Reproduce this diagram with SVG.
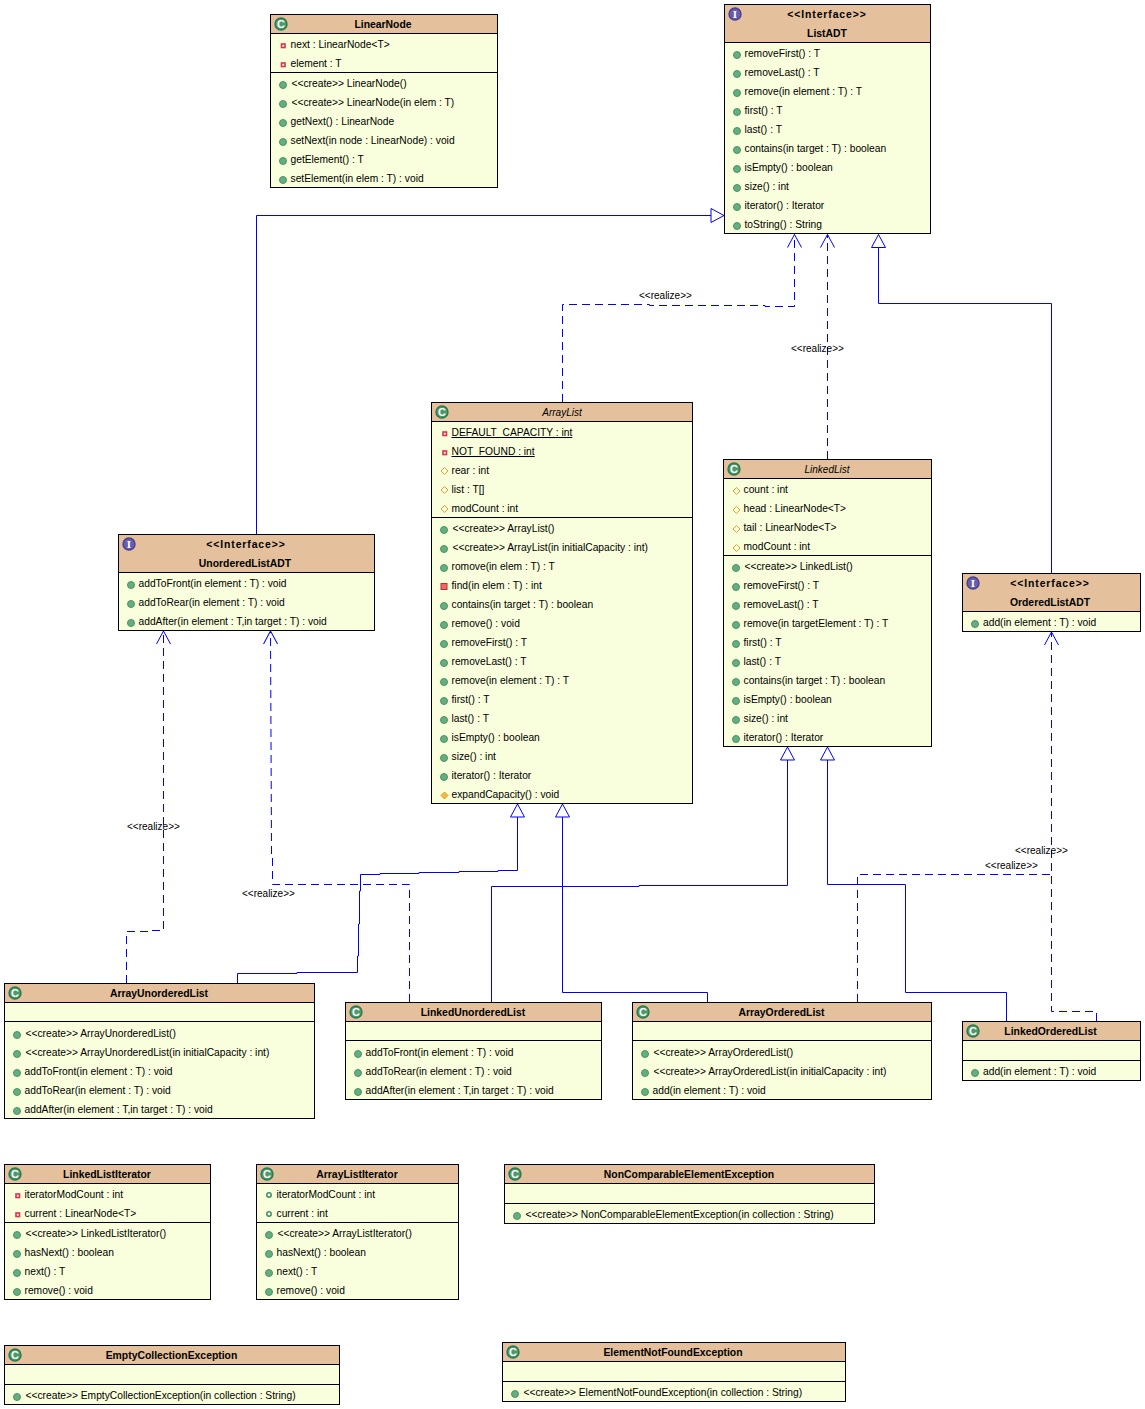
<svg xmlns="http://www.w3.org/2000/svg" width="1145" height="1409" viewBox="0 0 1145 1409">
<style>
text{font-family:"Liberation Sans",Arial,sans-serif;font-size:10.25px;fill:#000}
.l{font-size:10px}
.t{font-weight:bold;font-size:10.4px;text-anchor:middle}
.if{letter-spacing:.9px}
.it{font-style:italic;font-weight:normal;font-size:10px}
.u{text-decoration:underline}
.b{fill:#f9ffdc;stroke:#000;stroke-width:1}
.h{fill:#e4c19c;stroke:#000;stroke-width:1}
.s{stroke:#000;stroke-width:1;fill:none}
.c{fill:#4b9a6c;stroke:#2d7a4d;stroke-width:1.4}
.ci{fill:#6a5db0;stroke:#48408a;stroke-width:1.4}
.g{font-size:11px;font-weight:bold;fill:#fff;text-anchor:middle}
.gi{font-family:"Liberation Serif",serif;font-size:11px;font-weight:bold;fill:#fff;text-anchor:middle}
.pu{fill:#66ad7f;stroke:#4a9468;stroke-width:1}
.pr{fill:#fff;stroke:#e0304a;stroke-width:1.6}
.pm{fill:#ee6a6a;stroke:#b93030;stroke-width:1}
.pt{fill:none;stroke:#e0a030;stroke-width:1}
.pk{fill:#fff;stroke:#3d8f60;stroke-width:1.5}
.sol{fill:none;stroke:#00f;stroke-width:1}
.das{fill:none;stroke:#00f;stroke-width:1;stroke-dasharray:8 5}
.gen{marker-end:url(#tri)}
.rea{marker-end:url(#opn)}
</style>
<defs>
<marker id="tri" markerUnits="userSpaceOnUse" viewBox="-14 -8 15 16" refX="0" refY="0" markerWidth="15" markerHeight="16" orient="auto"><path d="M0 0L-13 -7L-13 7Z" fill="#fff" stroke="#00f" stroke-width="1"/></marker>
<marker id="opn" markerUnits="userSpaceOnUse" viewBox="-14 -8 15 16" refX="0" refY="0" markerWidth="15" markerHeight="16" orient="auto"><path d="M-13 -7L0 0L-13 7" fill="none" stroke="#00f" stroke-width="1"/></marker>
</defs>
<rect width="1145" height="1409" fill="#fff"/>
<g id="connectors">
<path class="sol gen" d="M256.5 534V215.5H724"/>
<path class="sol gen" d="M1051.5 573V303.5H878.5V234.5"/>
<path class="das rea" d="M562.5 402V304.5H649.5V305.5H765V306.5H794.5V234.5"/>
<path class="das rea" d="M827.5 459V234.5"/>
<path class="das rea" d="M126.5 983V931.5H149V930.5H163.5V631"/>
<path class="das rea" d="M409.5 1002V884.5H272.5V858H271.5V845L270.5 631"/>
<path class="sol gen" d="M237.5 983V973.5H297V972.5H357.5V956H358.5V924H359.5V891H360.5V874.5H380V873.5H419V872.5H459V871.5H498V870.5H517.5V804"/>
<path class="sol gen" d="M491.5 1002V886.5H639V885.5H787.5V747"/>
<path class="sol gen" d="M707.5 1002V992.5H562.5V804"/>
<path class="sol gen" d="M1006.5 1021V992.5H905.5V884.5H827.5V747"/>
<path class="das" d="M857.5 1002V874.5H1051.5"/>
<path class="das rea" d="M1096.5 1021V1011.5H1051.5V632"/>
<text class="l" x="639" y="299">&lt;&lt;realize&gt;&gt;</text>
<text class="l" x="791" y="352">&lt;&lt;realize&gt;&gt;</text>
<text class="l" x="127" y="830">&lt;&lt;realize&gt;&gt;</text>
<text class="l" x="242" y="897">&lt;&lt;realize&gt;&gt;</text>
<text class="l" x="1015" y="854">&lt;&lt;realize&gt;&gt;</text>
<text class="l" x="985" y="869">&lt;&lt;realize&gt;&gt;</text>
</g>
<g id="LinearNode">
<rect class="b" x="270.5" y="14.5" width="227" height="173"/><rect class="h" x="270.5" y="14.5" width="227" height="19"/><path class="s" d="M270.5 72.5H497.5"/>
<circle class="c" cx="281" cy="24" r="6"/><text class="g" x="281" y="28">C</text>
<text class="t" x="383" y="28">LinearNode</text>
<rect class="pr" x="281.5" y="44" width="3.5" height="3.5"/><rect class="pr" x="281.5" y="63" width="3.5" height="3.5"/>
<text x="290.5" y="48">next : LinearNode&lt;T&gt;</text><text x="290.5" y="67">element : T</text>
<circle class="pu" cx="283" cy="85" r="3.5"/><circle class="pu" cx="283" cy="104" r="3.5"/><circle class="pu" cx="283" cy="123" r="3.5"/><circle class="pu" cx="283" cy="142" r="3.5"/><circle class="pu" cx="283" cy="161" r="3.5"/><circle class="pu" cx="283" cy="180" r="3.5"/>
<text x="291.5" y="87">&lt;&lt;create&gt;&gt; LinearNode()</text><text x="291.5" y="106">&lt;&lt;create&gt;&gt; LinearNode(in elem : T)</text><text x="290.5" y="125">getNext() : LinearNode</text><text x="290.5" y="144">setNext(in node : LinearNode) : void</text><text x="290.5" y="163">getElement() : T</text><text x="290.5" y="182">setElement(in elem : T) : void</text>
</g>
<g id="ListADT">
<rect class="b" x="724.5" y="4.5" width="206" height="229"/><rect class="h" x="724.5" y="4.5" width="206" height="38"/>
<circle class="ci" cx="735" cy="14" r="6"/><text class="gi" x="735" y="18">I</text>
<text class="t if" x="827" y="18">&lt;&lt;Interface&gt;&gt;</text><text class="t" x="827" y="37">ListADT</text>
<circle class="pu" cx="737" cy="55" r="3.5"/><circle class="pu" cx="737" cy="74" r="3.5"/><circle class="pu" cx="737" cy="93" r="3.5"/><circle class="pu" cx="737" cy="112" r="3.5"/><circle class="pu" cx="737" cy="131" r="3.5"/><circle class="pu" cx="737" cy="150" r="3.5"/><circle class="pu" cx="737" cy="169" r="3.5"/><circle class="pu" cx="737" cy="188" r="3.5"/><circle class="pu" cx="737" cy="207" r="3.5"/><circle class="pu" cx="737" cy="226" r="3.5"/>
<text x="744.5" y="57">removeFirst() : T</text><text x="744.5" y="76">removeLast() : T</text><text x="744.5" y="95">remove(in element : T) : T</text><text x="744.5" y="114">first() : T</text><text x="744.5" y="133">last() : T</text><text x="744.5" y="152">contains(in target : T) : boolean</text><text x="744.5" y="171">isEmpty() : boolean</text><text x="744.5" y="190">size() : int</text><text x="744.5" y="209">iterator() : Iterator</text><text x="744.5" y="228">toString() : String</text>
</g>
<g id="ArrayList">
<rect class="b" x="431.5" y="402.5" width="261" height="401"/><rect class="h" x="431.5" y="402.5" width="261" height="19"/><path class="s" d="M431.5 517.5H692.5"/>
<circle class="c" cx="442" cy="412" r="6"/><text class="g" x="442" y="416">C</text>
<text class="t it" x="562" y="416">ArrayList</text>
<rect class="pr" x="443" y="432" width="3.5" height="3.5"/><rect class="pr" x="443" y="451" width="3.5" height="3.5"/>
<path class="pt" d="M444.5 467.5l3.5 3.5l-3.5 3.5l-3.5 -3.5zM444.5 486.5l3.5 3.5l-3.5 3.5l-3.5 -3.5zM444.5 505.5l3.5 3.5l-3.5 3.5l-3.5 -3.5z"/>
<text class="u" x="451.5" y="436">DEFAULT_CAPACITY : int</text><text class="u" x="451.5" y="455">NOT_FOUND : int</text><text x="451.5" y="474">rear : int</text><text x="451.5" y="493">list : T[]</text><text x="451.5" y="512">modCount : int</text>
<circle class="pu" cx="444" cy="530" r="3.5"/><circle class="pu" cx="444" cy="549" r="3.5"/><circle class="pu" cx="444" cy="568" r="3.5"/><rect class="pm" x="441" y="583.5" width="6" height="6"/><circle class="pu" cx="444" cy="606" r="3.5"/><circle class="pu" cx="444" cy="625" r="3.5"/><circle class="pu" cx="444" cy="644" r="3.5"/><circle class="pu" cx="444" cy="663" r="3.5"/><circle class="pu" cx="444" cy="682" r="3.5"/><circle class="pu" cx="444" cy="701" r="3.5"/><circle class="pu" cx="444" cy="720" r="3.5"/><circle class="pu" cx="444" cy="739" r="3.5"/><circle class="pu" cx="444" cy="758" r="3.5"/><circle class="pu" cx="444" cy="777" r="3.5"/>
<path class="pt" d="M444.5 792l3.5 3.5l-3.5 3.5l-3.5 -3.5z" style="fill:#f0b840"/>
<text x="452.5" y="532">&lt;&lt;create&gt;&gt; ArrayList()</text><text x="452.5" y="551">&lt;&lt;create&gt;&gt; ArrayList(in initialCapacity : int)</text><text x="451.5" y="570">romove(in elem : T) : T</text><text x="451.5" y="589">find(in elem : T) : int</text><text x="451.5" y="608">contains(in target : T) : boolean</text><text x="451.5" y="627">remove() : void</text><text x="451.5" y="646">removeFirst() : T</text><text x="451.5" y="665">removeLast() : T</text><text x="451.5" y="684">remove(in element : T) : T</text><text x="451.5" y="703">first() : T</text><text x="451.5" y="722">last() : T</text><text x="451.5" y="741">isEmpty() : boolean</text><text x="451.5" y="760">size() : int</text><text x="451.5" y="779">iterator() : Iterator</text><text x="451.5" y="798">expandCapacity() : void</text>
</g>
<g id="LinkedList">
<rect class="b" x="723.5" y="459.5" width="208" height="287"/><rect class="h" x="723.5" y="459.5" width="208" height="19"/><path class="s" d="M723.5 555.5H931.5"/>
<circle class="c" cx="734" cy="469" r="6"/><text class="g" x="734" y="473">C</text>
<text class="t it" x="827" y="473">LinkedList</text>
<path class="pt" d="M736.5 487.5l3.5 3.5l-3.5 3.5l-3.5 -3.5zM736.5 506.5l3.5 3.5l-3.5 3.5l-3.5 -3.5zM736.5 525.5l3.5 3.5l-3.5 3.5l-3.5 -3.5zM736.5 544.5l3.5 3.5l-3.5 3.5l-3.5 -3.5z"/>
<text x="743.5" y="493">count : int</text><text x="743.5" y="512">head : LinearNode&lt;T&gt;</text><text x="743.5" y="531">tail : LinearNode&lt;T&gt;</text><text x="743.5" y="550">modCount : int</text>
<circle class="pu" cx="736" cy="568" r="3.5"/><circle class="pu" cx="736" cy="587" r="3.5"/><circle class="pu" cx="736" cy="606" r="3.5"/><circle class="pu" cx="736" cy="625" r="3.5"/><circle class="pu" cx="736" cy="644" r="3.5"/><circle class="pu" cx="736" cy="663" r="3.5"/><circle class="pu" cx="736" cy="682" r="3.5"/><circle class="pu" cx="736" cy="701" r="3.5"/><circle class="pu" cx="736" cy="720" r="3.5"/><circle class="pu" cx="736" cy="739" r="3.5"/>
<text x="744.5" y="570">&lt;&lt;create&gt;&gt; LinkedList()</text><text x="743.5" y="589">removeFirst() : T</text><text x="743.5" y="608">removeLast() : T</text><text x="743.5" y="627">remove(in targetElement : T) : T</text><text x="743.5" y="646">first() : T</text><text x="743.5" y="665">last() : T</text><text x="743.5" y="684">contains(in target : T) : boolean</text><text x="743.5" y="703">isEmpty() : boolean</text><text x="743.5" y="722">size() : int</text><text x="743.5" y="741">iterator() : Iterator</text>
</g>
<g id="UnorderedListADT">
<rect class="b" x="118.5" y="534.5" width="256" height="96"/><rect class="h" x="118.5" y="534.5" width="256" height="38"/>
<circle class="ci" cx="129" cy="544" r="6"/><text class="gi" x="129" y="548">I</text>
<text class="t if" x="246" y="548">&lt;&lt;Interface&gt;&gt;</text><text class="t" x="245" y="567">UnorderedListADT</text>
<circle class="pu" cx="131" cy="585" r="3.5"/><circle class="pu" cx="131" cy="604" r="3.5"/><circle class="pu" cx="131" cy="623" r="3.5"/>
<text x="138.5" y="587">addToFront(in element : T) : void</text><text x="138.5" y="606">addToRear(in element : T) : void</text><text x="138.5" y="625">addAfter(in element : T,in target : T) : void</text>
</g>
<g id="OrderedListADT">
<rect class="b" x="962.5" y="573.5" width="178" height="58"/><rect class="h" x="962.5" y="573.5" width="178" height="38"/>
<circle class="ci" cx="973" cy="583" r="6"/><text class="gi" x="973" y="587">I</text>
<text class="t if" x="1050" y="587">&lt;&lt;Interface&gt;&gt;</text><text class="t" x="1050" y="606">OrderedListADT</text>
<circle class="pu" cx="975" cy="624" r="3.5"/>
<text x="983" y="626">add(in element : T) : void</text>
</g>
<g id="ArrayUnorderedList">
<rect class="b" x="4.5" y="983.5" width="310" height="135"/><rect class="h" x="4.5" y="983.5" width="310" height="19"/><path class="s" d="M4.5 1021.5H314.5"/>
<circle class="c" cx="15" cy="993" r="6"/><text class="g" x="15" y="997">C</text>
<text class="t" x="159" y="997">ArrayUnorderedList</text>
<circle class="pu" cx="17" cy="1035" r="3.5"/><circle class="pu" cx="17" cy="1054" r="3.5"/><circle class="pu" cx="17" cy="1073" r="3.5"/><circle class="pu" cx="17" cy="1092" r="3.5"/><circle class="pu" cx="17" cy="1111" r="3.5"/>
<text x="25.5" y="1037">&lt;&lt;create&gt;&gt; ArrayUnorderedList()</text><text x="25.5" y="1056">&lt;&lt;create&gt;&gt; ArrayUnorderedList(in initialCapacity : int)</text><text x="24.5" y="1075">addToFront(in element : T) : void</text><text x="24.5" y="1094">addToRear(in element : T) : void</text><text x="24.5" y="1113">addAfter(in element : T,in target : T) : void</text>
</g>
<g id="LinkedUnorderedList">
<rect class="b" x="345.5" y="1002.5" width="256" height="97"/><rect class="h" x="345.5" y="1002.5" width="256" height="19"/><path class="s" d="M345.5 1040.5H601.5"/>
<circle class="c" cx="356" cy="1012" r="6"/><text class="g" x="356" y="1016">C</text>
<text class="t" x="473" y="1016">LinkedUnorderedList</text>
<circle class="pu" cx="358" cy="1054" r="3.5"/><circle class="pu" cx="358" cy="1073" r="3.5"/><circle class="pu" cx="358" cy="1092" r="3.5"/>
<text x="365.5" y="1056">addToFront(in element : T) : void</text><text x="365.5" y="1075">addToRear(in element : T) : void</text><text x="365.5" y="1094">addAfter(in element : T,in target : T) : void</text>
</g>
<g id="ArrayOrderedList">
<rect class="b" x="632.5" y="1002.5" width="299" height="97"/><rect class="h" x="632.5" y="1002.5" width="299" height="19"/><path class="s" d="M632.5 1040.5H931.5"/>
<circle class="c" cx="643" cy="1012" r="6"/><text class="g" x="643" y="1016">C</text>
<text class="t" x="781.5" y="1016">ArrayOrderedList</text>
<circle class="pu" cx="645" cy="1054" r="3.5"/><circle class="pu" cx="645" cy="1073" r="3.5"/><circle class="pu" cx="645" cy="1092" r="3.5"/>
<text x="653.5" y="1056">&lt;&lt;create&gt;&gt; ArrayOrderedList()</text><text x="653.5" y="1075">&lt;&lt;create&gt;&gt; ArrayOrderedList(in initialCapacity : int)</text><text x="652.5" y="1094">add(in element : T) : void</text>
</g>
<g id="LinkedOrderedList">
<rect class="b" x="962.5" y="1021.5" width="178" height="59"/><rect class="h" x="962.5" y="1021.5" width="178" height="19"/><path class="s" d="M962.5 1060.5H1140.5"/>
<circle class="c" cx="973" cy="1031" r="6"/><text class="g" x="973" y="1035">C</text>
<text class="t" x="1050.5" y="1035">LinkedOrderedList</text>
<circle class="pu" cx="975" cy="1073" r="3.5"/>
<text x="983" y="1075">add(in element : T) : void</text>
</g>
<g id="LinkedListIterator">
<rect class="b" x="4.5" y="1164.5" width="206" height="135"/><rect class="h" x="4.5" y="1164.5" width="206" height="19"/><path class="s" d="M4.5 1222.5H210.5"/>
<circle class="c" cx="15" cy="1174" r="6"/><text class="g" x="15" y="1178">C</text>
<text class="t" x="107" y="1178">LinkedListIterator</text>
<rect class="pr" x="16" y="1194" width="3.5" height="3.5"/><rect class="pr" x="16" y="1213" width="3.5" height="3.5"/>
<text x="24.5" y="1198">iteratorModCount : int</text><text x="24.5" y="1217">current : LinearNode&lt;T&gt;</text>
<circle class="pu" cx="17" cy="1235" r="3.5"/><circle class="pu" cx="17" cy="1254" r="3.5"/><circle class="pu" cx="17" cy="1273" r="3.5"/><circle class="pu" cx="17" cy="1292" r="3.5"/>
<text x="25.5" y="1237">&lt;&lt;create&gt;&gt; LinkedListIterator()</text><text x="24.5" y="1256">hasNext() : boolean</text><text x="24.5" y="1275">next() : T</text><text x="24.5" y="1294">remove() : void</text>
</g>
<g id="ArrayListIterator">
<rect class="b" x="256.5" y="1164.5" width="202" height="135"/><rect class="h" x="256.5" y="1164.5" width="202" height="19"/><path class="s" d="M256.5 1222.5H458.5"/>
<circle class="c" cx="267" cy="1174" r="6"/><text class="g" x="267" y="1178">C</text>
<text class="t" x="357" y="1178">ArrayListIterator</text>
<circle class="pk" cx="269" cy="1195" r="2.2"/><circle class="pk" cx="269" cy="1214" r="2.2"/>
<text x="276.5" y="1198">iteratorModCount : int</text><text x="276.5" y="1217">current : int</text>
<circle class="pu" cx="269" cy="1235" r="3.5"/><circle class="pu" cx="269" cy="1254" r="3.5"/><circle class="pu" cx="269" cy="1273" r="3.5"/><circle class="pu" cx="269" cy="1292" r="3.5"/>
<text x="277.5" y="1237">&lt;&lt;create&gt;&gt; ArrayListIterator()</text><text x="276.5" y="1256">hasNext() : boolean</text><text x="276.5" y="1275">next() : T</text><text x="276.5" y="1294">remove() : void</text>
</g>
<g id="NonComparableElementException">
<rect class="b" x="504.5" y="1164.5" width="370" height="59"/><rect class="h" x="504.5" y="1164.5" width="370" height="19"/><path class="s" d="M504.5 1203.5H874.5"/>
<circle class="c" cx="515" cy="1174" r="6"/><text class="g" x="515" y="1178">C</text>
<text class="t" x="689" y="1178">NonComparableElementException</text>
<circle class="pu" cx="517" cy="1216" r="3.5"/>
<text x="525.5" y="1218">&lt;&lt;create&gt;&gt; NonComparableElementException(in collection : String)</text>
</g>
<g id="EmptyCollectionException">
<rect class="b" x="4.5" y="1345.5" width="335" height="59"/><rect class="h" x="4.5" y="1345.5" width="335" height="19"/><path class="s" d="M4.5 1384.5H339.5"/>
<circle class="c" cx="15" cy="1355" r="6"/><text class="g" x="15" y="1359">C</text>
<text class="t" x="171.5" y="1359">EmptyCollectionException</text>
<circle class="pu" cx="17" cy="1397" r="3.5"/>
<text x="25.5" y="1399">&lt;&lt;create&gt;&gt; EmptyCollectionException(in collection : String)</text>
</g>
<g id="ElementNotFoundException">
<rect class="b" x="502.5" y="1342.5" width="343" height="59"/><rect class="h" x="502.5" y="1342.5" width="343" height="19"/><path class="s" d="M502.5 1381.5H845.5"/>
<circle class="c" cx="513" cy="1352" r="6"/><text class="g" x="513" y="1356">C</text>
<text class="t" x="673" y="1356">ElementNotFoundException</text>
<circle class="pu" cx="515" cy="1394" r="3.5"/>
<text x="523.5" y="1396">&lt;&lt;create&gt;&gt; ElementNotFoundException(in collection : String)</text>
</g>
</svg>
